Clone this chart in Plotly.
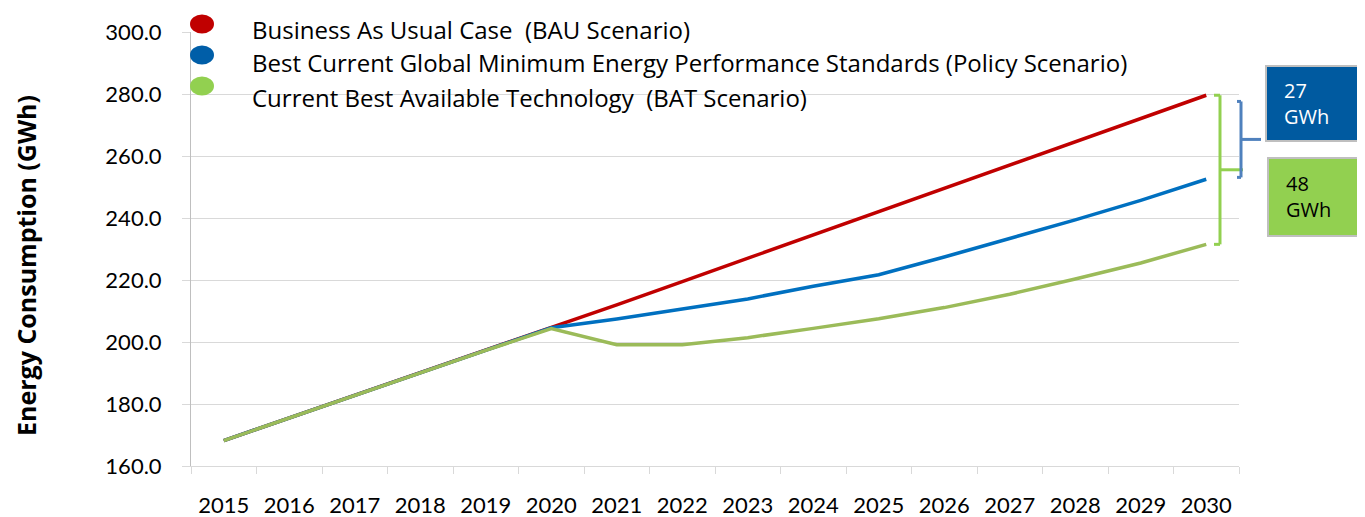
import plotly.graph_objects as go

years = [str(y) for y in range(2015, 2031)]
bau = [168.2, 175.5, 182.7, 190.0, 197.3, 204.8, 212.0, 219.5, 227.0, 234.5, 242.0, 249.5, 257.0, 264.5, 272.0, 279.6]
policy = [168.2, 175.5, 182.7, 190.0, 197.3, 204.6, 207.4, 210.6, 213.9, 218.0, 221.7, 227.4, 233.3, 239.4, 245.7, 252.5]
bat = [168.2, 175.5, 182.7, 190.0, 197.3, 204.3, 199.1, 199.1, 201.4, 204.4, 207.5, 211.1, 215.4, 220.3, 225.5, 231.5]

series_names = [
    "Business As Usual Case  (BAU Scenario)",
    "Best Current Global Minimum Energy Performance Standards (Policy Scenario)",
    "Current Best Available Technology  (BAT Scenario)",
]
line_colors = ["#C00000", "#0070C0", "#9BBB59"]
marker_colors = ["#C00000", "#005EA8", "#92D050"]
gap_labels = ["27<br>GWh", "48<br>GWh"]
y_title = "<b>Energy Consumption (GWh)</b>"

# page has an 8px body margin; compensate so the figure lands where the reference is
OFF = 8
W, H = 1365 - OFF, 517 - OFF
L, R, T, B = 191 - OFF, 1239 - OFF, 32 - OFF, 466 - OFF

def px(x):
    return (x - OFF - L) / (R - L)

def py(y):
    return (B - (y - OFF)) / (B - T)

fig = go.Figure()
for vals, name, col in zip([bau, policy, bat], series_names, line_colors):
    fig.add_trace(go.Scatter(x=years, y=vals, mode="lines", name=name,
                             line=dict(color=col, width=3.5), showlegend=False))

shapes = []
annotations = []
FONT = "Open Sans, sans-serif"
TFONT = "Lato, sans-serif"

# legend
marker_y = [24, 55, 86]
text_y = [29.5, 63, 97.5]
for my, ty, name, col in zip(marker_y, text_y, series_names, marker_colors):
    shapes.append(dict(type="circle", xref="paper", yref="paper",
                       x0=px(190), x1=px(214), y0=py(my - 9.5), y1=py(my + 9.5),
                       fillcolor=col, line=dict(width=0)))
    annotations.append(dict(xref="paper", yref="paper", x=px(250), y=py(ty),
                            text=name, showarrow=False, xanchor="left", yanchor="middle",
                            font=dict(family=FONT, size=24, color="#000000")))

# y-axis title
annotations.append(dict(xref="paper", yref="paper", x=px(26), y=py(266), text=y_title, textangle=-90,
                        showarrow=False, xanchor="center", yanchor="middle", borderpad=0,
                        font=dict(family=FONT, size=25, color="#000000")))

# green bracket (BAU vs BAT)
gcol = "#92D050"
shapes += [
    dict(type="line", xref="paper", yref="y", x0=px(1220), x1=px(1220), y0=bau[-1], y1=bat[-1], line=dict(color=gcol, width=3)),
    dict(type="line", xref="paper", yref="y", x0=px(1214), x1=px(1220), y0=bau[-1], y1=bau[-1], line=dict(color=gcol, width=3)),
    dict(type="line", xref="paper", yref="y", x0=px(1214), x1=px(1220), y0=bat[-1], y1=bat[-1], line=dict(color=gcol, width=3)),
    dict(type="line", xref="paper", yref="y", x0=px(1220), x1=px(1243), y0=(bau[-1] + bat[-1]) / 2, y1=(bau[-1] + bat[-1]) / 2, line=dict(color=gcol, width=3)),
]
# blue bracket (BAU vs Policy)
bcol = "#4F81BD"
btop, bbot = bau[-1] - 2.0, policy[-1] + 0.6
shapes += [
    dict(type="line", xref="paper", yref="y", x0=px(1241), x1=px(1241), y0=btop, y1=bbot, line=dict(color=bcol, width=3)),
    dict(type="line", xref="paper", yref="y", x0=px(1237), x1=px(1241), y0=btop, y1=btop, line=dict(color=bcol, width=3)),
    dict(type="line", xref="paper", yref="y", x0=px(1237), x1=px(1241), y0=bbot, y1=bbot, line=dict(color=bcol, width=3)),
    dict(type="line", xref="paper", yref="y", x0=px(1241), x1=px(1261), y0=(btop + bbot) / 2, y1=(btop + bbot) / 2, line=dict(color=bcol, width=3)),
]
# boxes
shapes.append(dict(type="rect", xref="paper", yref="paper", x0=px(1266), x1=px(1362), y0=py(141), y1=py(66),
                   fillcolor="#005AA0", line=dict(color="#BFBFBF", width=2)))
shapes.append(dict(type="rect", xref="paper", yref="paper", x0=px(1268), x1=px(1363), y0=py(236), y1=py(158),
                   fillcolor="#92D050", line=dict(color="#BFBFBF", width=2)))
annotations.append(dict(xref="paper", yref="paper", x=px(1282), y=py(104), text=gap_labels[0], showarrow=False,
                        xanchor="left", yanchor="middle", align="left",
                        font=dict(family=FONT, size=20, color="#FFFFFF")))
annotations.append(dict(xref="paper", yref="paper", x=px(1284), y=py(197), text=gap_labels[1], showarrow=False,
                        xanchor="left", yanchor="middle", align="left",
                        font=dict(family=FONT, size=20, color="#000000")))

fig.update_layout(
    width=W, height=H,
    margin=dict(l=L, r=W - R, t=T, b=H - B),
    paper_bgcolor="white", plot_bgcolor="white",
    shapes=shapes, annotations=annotations,
    font=dict(family=FONT, color="#000000"),
    xaxis=dict(type="category", range=[-0.5, 15.5], showgrid=False, tickson="boundaries",
               ticks="outside", ticklen=7, tickcolor="#D9D9D9", tickwidth=1,
               showline=True, linecolor="#D9D9D9", linewidth=1, automargin=False,
               tickfont=dict(size=22, family=TFONT), ticklabelstandoff=20),
    yaxis=dict(range=[160, 300], dtick=20, tickformat=".1f", showgrid=True, gridcolor="#D9D9D9",
               gridwidth=1, zeroline=False, ticks="outside", ticklen=8, tickcolor="#D9D9D9",
               showline=True, linecolor="#BFBFBF", linewidth=1, automargin=False,
               tickfont=dict(size=22, family=TFONT), ticklabelstandoff=16),
)

fig.write_html("out.html")
